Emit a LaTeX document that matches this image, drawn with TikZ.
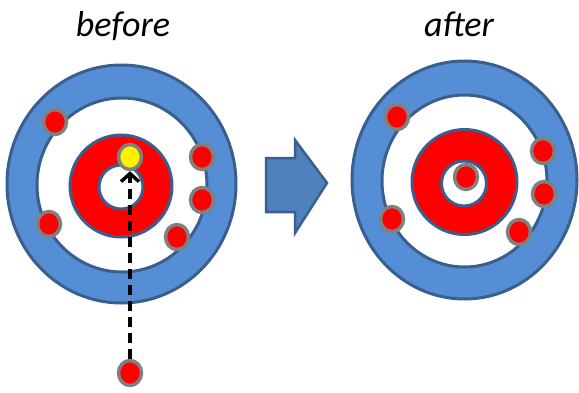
\documentclass[tikz,border=0pt]{standalone}
\usepackage{fontspec}
\setmainfont{Carlito}
\usetikzlibrary{shapes.geometric,arrows.meta}
\definecolor{ringblue}{HTML}{558ED5}
\definecolor{arrowblue}{HTML}{4F81BD}
\definecolor{edgeblue}{HTML}{3A5F8E}
\definecolor{stonegray}{HTML}{808080}
\tikzset{
  house/.style={draw=edgeblue, line width=3pt, even odd rule},
  stone/.style={ellipse, draw=stonegray, line width=3.5pt, fill=red,
    minimum width=23pt, minimum height=25pt, inner sep=0pt},
  caption/.style={font=\itshape\fontsize{36}{42}\selectfont, anchor=base},
  throw/.style={black, line width=4pt, dash pattern=on 10pt off 6pt,
    -{Straight Barb[length=8pt, width=18pt, line width=3.5pt]}},
}
\begin{document}
\begin{tikzpicture}[x=1pt, y=-1pt]
\useasboundingbox (0,0) rectangle (579,392);

% headings
\node[caption] (tbefore) at (123,36) {before};
\node[caption] (tafter) at (459,36) {after};

% left house
\fill[house, fill=ringblue] (121.5,184) ellipse [x radius=114.5, y radius=119]
  (122,185) ellipse [x radius=85, y radius=87];
\fill[house, fill=red] (121,186) circle [radius=51] (121,187) circle [radius=22];

% right house
\fill[house, fill=ringblue] (464.5,180) ellipse [x radius=112.5, y radius=119]
  (464.5,181) ellipse [x radius=82.5, y radius=86];
\fill[house, fill=red] (464.5,182) circle [radius=52.5] (464,183.5) circle [radius=22.5];

% stones before the shot
\node[stone] (l1) at (55,122) {};
\node[stone] (l2) at (202,157) {};
\node[stone] (l3) at (202,200) {};
\node[stone] (l4) at (49,224) {};
\node[stone] (l5) at (177,237) {};
\node[stone, fill=yellow] (ly) at (130,157) {};
\node[stone] (shot) at (130,373) {};

% path of the delivered stone
\draw[throw] (shot.north) -- (ly.south);

% stones after the shot
\node[stone] (r1) at (397,117) {};
\node[stone] (r2) at (543,151) {};
\node[stone] (r3) at (544,194) {};
\node[stone] (r4) at (392,219) {};
\node[stone] (r5) at (519,232) {};
\node[stone] (rc) at (466,177) {};

% block arrow between the two states
\filldraw[fill=arrowblue, draw=edgeblue, line width=2.5pt, line join=miter]
  (266,158) -- (295,158) -- (295,140) -- (327,183) -- (295,233)
  -- (295,212) -- (266,212) -- cycle;
\end{tikzpicture}
\end{document}
